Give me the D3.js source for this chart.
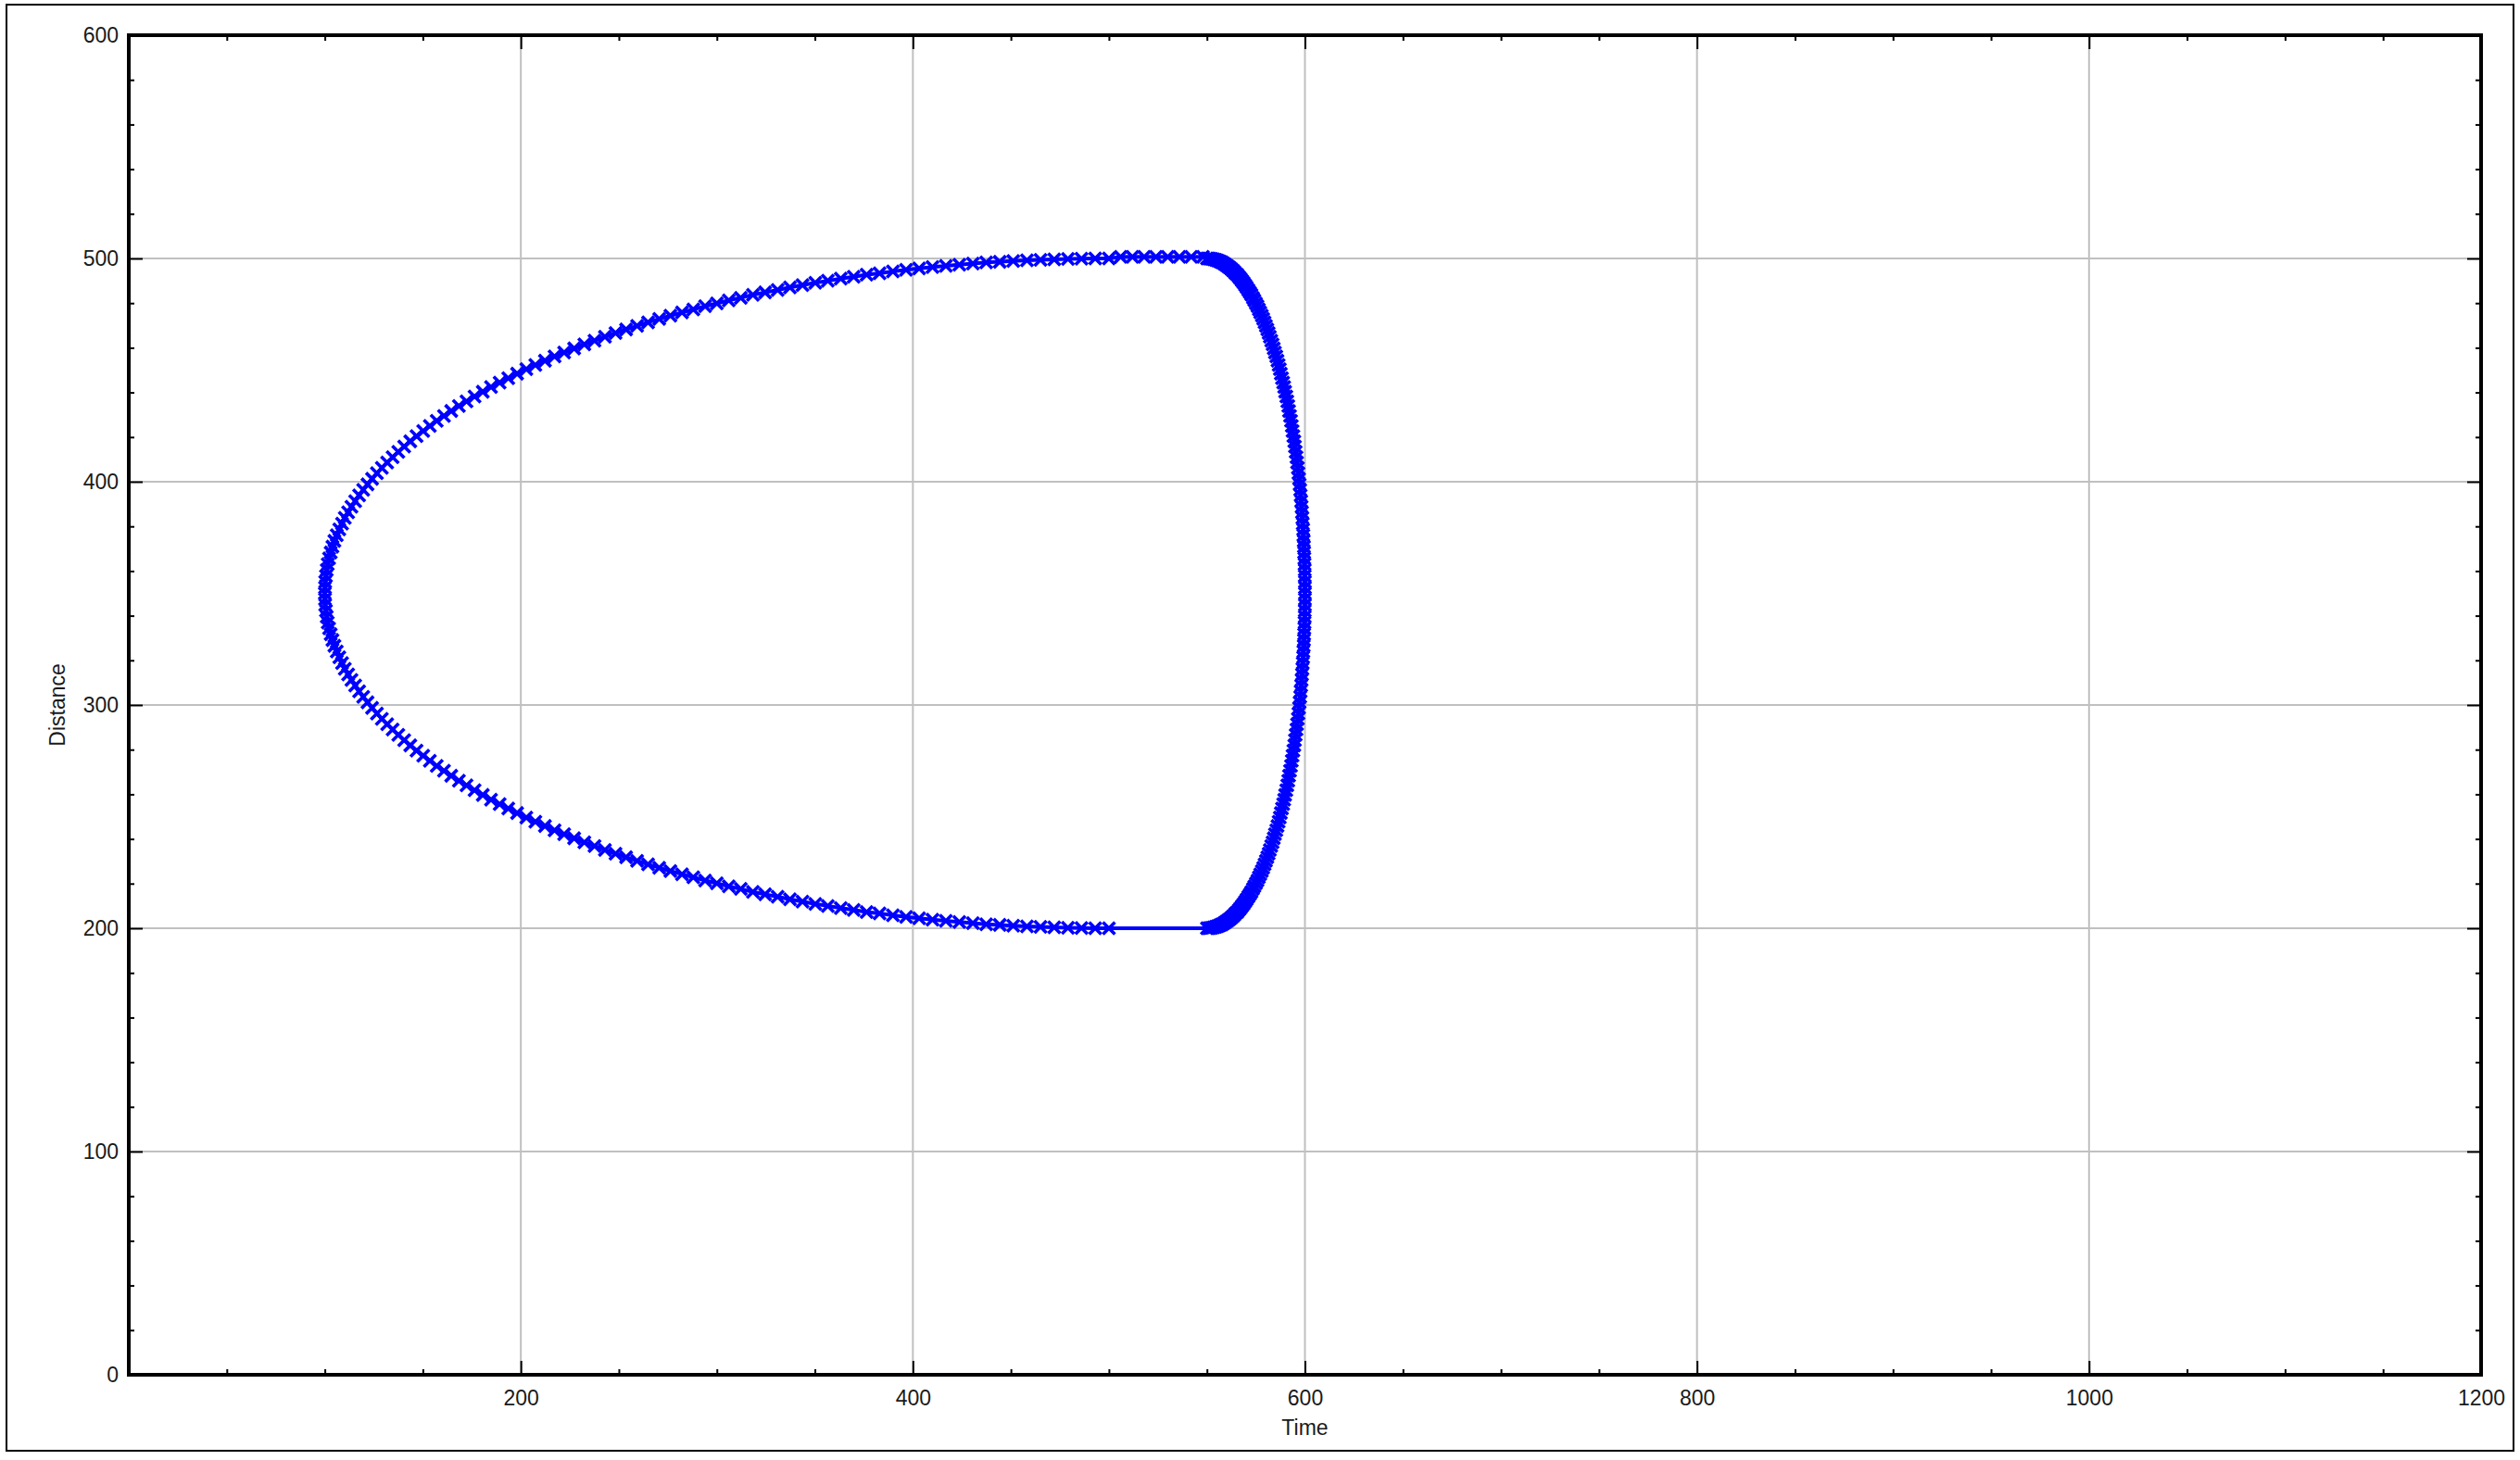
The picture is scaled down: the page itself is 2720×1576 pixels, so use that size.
<!DOCTYPE html>
<html><head><meta charset="utf-8">
<script src="https://cdn.jsdelivr.net/npm/d3@7"></script>
<style>body{margin:0;background:#fff}svg{display:block}</style>
</head><body><svg id="chart" width="2720" height="1576"></svg>
<script>
const xTickLabels = [200,400,600,800,1000,1200];
const yTickLabels = [0,100,200,300,400,500,600];
const xAxisTitle = "Time";
const yAxisTitle = "Distance";

// right lobe: from (550,500) down through (600,350) to (550,200)
const rightLoopX = [550.0,550.9,551.7,552.6,553.5,554.4,555.2,556.1,557.0,557.8,558.7,559.5,560.4,561.2,562.1,562.9,563.8,564.6,565.5,566.3,567.1,567.9,568.7,569.5,570.3,571.1,571.9,572.7,573.5,574.2,575.0,575.8,576.5,577.2,578.0,578.7,579.4,580.1,580.8,581.5,582.1,582.8,583.5,584.1,584.7,585.4,586.0,586.6,587.2,587.7,588.3,588.9,589.4,589.9,590.5,591.0,591.5,591.9,592.4,592.9,593.3,593.7,594.1,594.6,594.9,595.3,595.7,596.0,596.4,596.7,597.0,597.3,597.6,597.8,598.1,598.3,598.5,598.7,598.9,599.1,599.2,599.4,599.5,599.6,599.7,599.8,599.9,599.9,600.0,600.0,600.0,
600.0,600.0,599.9,599.9,599.8,599.7,599.6,599.5,599.4,599.2,599.1,598.9,598.7,598.5,598.3,598.1,597.8,597.6,597.3,597.0,596.7,596.4,596.0,595.7,595.3,594.9,594.6,594.1,593.7,593.3,592.9,592.4,591.9,591.5,591.0,590.5,589.9,589.4,588.9,588.3,587.7,587.2,586.6,586.0,585.4,584.7,584.1,583.5,582.8,582.1,581.5,580.8,580.1,579.4,578.7,578.0,577.2,576.5,575.8,575.0,574.2,573.5,572.7,571.9,571.1,570.3,569.5,568.7,567.9,567.1,566.3,565.5,564.6,563.8,562.9,562.1,561.2,560.4,559.5,558.7,557.8,557.0,556.1,555.2,554.4,553.5,552.6,551.7,550.9,550.0];
const rightLoopY = [500.0,500.0,499.9,499.8,499.6,499.4,499.2,498.9,498.5,498.2,497.7,497.2,496.7,496.2,495.5,494.9,494.2,493.4,492.7,491.8,491.0,490.0,489.1,488.1,487.0,485.9,484.8,483.7,482.4,481.2,479.9,478.6,477.2,475.8,474.4,472.9,471.4,469.8,468.2,466.6,464.9,463.2,461.5,459.7,457.9,456.1,454.2,452.3,450.4,448.4,446.4,444.4,442.4,440.3,438.2,436.0,433.9,431.7,429.5,427.3,425.0,422.7,420.4,418.1,415.8,413.4,411.0,408.6,406.2,403.8,401.3,398.8,396.4,393.9,391.3,388.8,386.3,383.8,381.2,378.6,376.0,373.5,370.9,368.3,365.7,363.1,360.5,357.8,355.2,352.6,350.0,
347.4,344.8,342.2,339.5,336.9,334.3,331.7,329.1,326.5,324.0,321.4,318.8,316.2,313.7,311.2,308.7,306.1,303.6,301.2,298.7,296.2,293.8,291.4,289.0,286.6,284.2,281.9,279.6,277.3,275.0,272.7,270.5,268.3,266.1,264.0,261.8,259.7,257.6,255.6,253.6,251.6,249.6,247.7,245.8,243.9,242.1,240.3,238.5,236.8,235.1,233.4,231.8,230.2,228.6,227.1,225.6,224.2,222.8,221.4,220.1,218.8,217.6,216.3,215.2,214.1,213.0,211.9,210.9,210.0,209.0,208.2,207.3,206.6,205.8,205.1,204.5,203.8,203.3,202.8,202.3,201.8,201.5,201.1,200.8,200.6,200.4,200.2,200.1,200.0,200.0];

// left lobe: from (500,200) through the tip (100,350) to (500,500)
const leftLoopX = [500.0,493.0,486.0,479.1,472.1,465.1,458.2,451.2,444.3,437.4,430.6,423.7,416.8,410.0,403.2,396.5,389.8,383.0,376.4,369.8,363.2,356.6,350.2,343.7,337.3,331.0,324.6,318.4,312.2,306.1,300.0,294.0,288.0,282.2,276.3,270.6,264.9,259.3,253.7,248.3,242.9,237.6,232.4,227.2,222.1,217.2,212.3,207.4,202.8,198.1,193.6,189.2,184.8,180.6,176.4,172.3,168.4,164.5,160.8,157.1,153.6,150.2,146.8,143.6,140.5,137.5,134.6,131.8,129.1,126.6,124.1,121.8,119.6,117.5,115.5,113.6,111.9,110.2,108.8,107.4,106.1,104.9,103.9,103.0,102.2,101.5,101.0,100.6,100.2,100.1,100.0,
100.1,100.2,100.6,101.0,101.5,102.2,103.0,103.9,104.9,106.1,107.4,108.8,110.2,111.9,113.6,115.5,117.5,119.6,121.8,124.1,126.6,129.1,131.8,134.6,137.5,140.5,143.6,146.8,150.2,153.6,157.1,160.8,164.5,168.4,172.3,176.4,180.6,184.8,189.2,193.6,198.1,202.8,207.4,212.3,217.2,222.1,227.2,232.4,237.6,242.9,248.3,253.7,259.3,264.9,270.6,276.3,282.2,288.0,294.0,300.0,306.1,312.2,318.4,324.6,331.0,337.3,343.7,350.2,356.6,363.2,369.8,376.4,383.0,389.8,396.5,403.2,410.0,416.8,423.7,430.6,437.4,444.3,451.2,458.2,465.1,472.1,479.1,486.0,493.0,500.0];
const leftLoopY = [200.0,200.0,200.1,200.2,200.4,200.6,200.8,201.1,201.5,201.8,202.3,202.8,203.3,203.8,204.5,205.1,205.8,206.6,207.3,208.2,209.0,210.0,210.9,211.9,213.0,214.1,215.2,216.3,217.6,218.8,220.1,221.4,222.8,224.2,225.6,227.1,228.6,230.2,231.8,233.4,235.1,236.8,238.5,240.3,242.1,243.9,245.8,247.7,249.6,251.6,253.6,255.6,257.6,259.7,261.8,264.0,266.1,268.3,270.5,272.7,275.0,277.3,279.6,281.9,284.2,286.6,289.0,291.4,293.8,296.2,298.7,301.2,303.6,306.1,308.7,311.2,313.7,316.2,318.8,321.4,324.0,326.5,329.1,331.7,334.3,336.9,339.5,342.2,344.8,347.4,350.0,
352.6,355.2,357.8,360.5,363.1,365.7,368.3,370.9,373.5,376.0,378.6,381.2,383.8,386.3,388.8,391.3,393.9,396.4,398.8,401.3,403.8,406.2,408.6,411.0,413.4,415.8,418.1,420.4,422.7,425.0,427.3,429.5,431.7,433.9,436.0,438.2,440.3,442.4,444.4,446.4,448.4,450.4,452.3,454.2,456.1,457.9,459.7,461.5,463.2,464.9,466.6,468.2,469.8,471.4,472.9,474.4,475.8,477.2,478.6,479.9,481.2,482.4,483.7,484.8,485.9,487.0,488.1,489.1,490.0,491.0,491.8,492.7,493.4,494.2,494.9,495.5,496.2,496.7,497.2,497.7,498.2,498.5,498.9,499.2,499.4,499.6,499.8,499.9,500.0,500.0];

// flat top edge joining the two lobes
const topEdgeX = [506,512,518,524,530,536,542,548];
const topEdgeY = [500.7,500.7,500.7,500.7,500.7,500.7,500.7,500.7];

function zip(xs, ys){ const n=Math.min(xs.length, ys.length); const out=[]; for(let i=0;i<n;i++) out.push({x:xs[i], y:ys[i]}); return out; }
const points = [].concat(zip(rightLoopX,rightLoopY), zip(leftLoopX,leftLoopY), zip(topEdgeX,topEdgeY));

const svg = d3.select("#chart");
const L=139, R=2678, T=38, B=1484;
const x = d3.scaleLinear().domain([0,1200]).range([L,R]);
const y = d3.scaleLinear().domain([0,600]).range([B,T]);
const FONT = "'Liberation Sans', Arial, sans-serif";

svg.append("rect").attr("width",2720).attr("height",1576).attr("fill","#fff");
// outer border
svg.append("rect").attr("x",7).attr("y",5).attr("width",2706).attr("height",1561)
  .attr("fill","none").attr("stroke","#000").attr("stroke-width",2);

// grid
const grid = svg.append("g").attr("stroke","#c0c0c0").attr("stroke-width",2);
xTickLabels.filter(v=>v<1200).forEach(v=>{
  grid.append("line").attr("x1",x(v)).attr("x2",x(v)).attr("y1",T).attr("y2",B);
});
yTickLabels.filter(v=>v>0 && v<600).forEach(v=>{
  grid.append("line").attr("x1",L).attr("x2",R).attr("y1",y(v)).attr("y2",y(v));
});

// data
const line = d3.line().x(d=>x(d.x)).y(d=>y(d.y));
svg.append("path").datum(points).attr("d",line).attr("fill","none")
  .attr("stroke","#0000ff").attr("stroke-width",4).attr("stroke-linejoin","round");
const s = 6.5;
svg.append("g").selectAll("path").data(points).join("path")
  .attr("transform",d=>`translate(${x(d.x)},${y(d.y)})`)
  .attr("d",`M${-s},${-s}L${s},${s}M${-s},${s}L${s},${-s}`)
  .attr("stroke","#0000ff").attr("stroke-width",3.6).attr("fill","none");

// axes (ticks inside on all four sides)
const xMinor = d3.range(0,1201,50).filter(v=>v%200!==0);
const yMinor = d3.range(0,601,20).filter(v=>v%100!==0);
function styleAxis(g){
  g.select(".domain").remove();
  g.selectAll(".tick line").attr("stroke","#000").attr("stroke-width",2);
  g.selectAll("text").attr("font-family",FONT).attr("font-size",23).attr("fill","#1a1a1a");
}
svg.append("g").attr("transform",`translate(0,${B})`)
  .call(d3.axisBottom(x).tickValues(xTickLabels).tickSize(-15).tickPadding(17).tickFormat(d3.format("d")))
  .call(styleAxis);
svg.append("g").attr("transform",`translate(0,${B})`)
  .call(d3.axisBottom(x).tickValues(xMinor).tickSize(-6).tickFormat(""))
  .call(styleAxis);
svg.append("g").attr("transform",`translate(0,${T})`)
  .call(d3.axisTop(x).tickValues(xTickLabels).tickSize(-15).tickFormat(""))
  .call(styleAxis);
svg.append("g").attr("transform",`translate(0,${T})`)
  .call(d3.axisTop(x).tickValues(xMinor).tickSize(-6).tickFormat(""))
  .call(styleAxis);
svg.append("g").attr("transform",`translate(${L},0)`)
  .call(d3.axisLeft(y).tickValues(yTickLabels).tickSize(-15).tickPadding(11).tickFormat(d3.format("d")))
  .call(styleAxis);
svg.append("g").attr("transform",`translate(${L},0)`)
  .call(d3.axisLeft(y).tickValues(yMinor).tickSize(-6).tickFormat(""))
  .call(styleAxis);
svg.append("g").attr("transform",`translate(${R},0)`)
  .call(d3.axisRight(y).tickValues(yTickLabels).tickSize(-15).tickFormat(""))
  .call(styleAxis);
svg.append("g").attr("transform",`translate(${R},0)`)
  .call(d3.axisRight(y).tickValues(yMinor).tickSize(-6).tickFormat(""))
  .call(styleAxis);

// plot frame
svg.append("rect").attr("x",L).attr("y",T).attr("width",R-L).attr("height",B-T)
  .attr("fill","none").attr("stroke","#000").attr("stroke-width",4);

// axis titles
svg.append("text").attr("x",(L+R)/2).attr("y",1549).attr("text-anchor","middle")
  .attr("font-family",FONT).attr("font-size",23).attr("fill","#1a1a1a").text(xAxisTitle);
svg.append("text").attr("transform",`translate(70,${(T+B)/2}) rotate(-90)`).attr("text-anchor","middle")
  .attr("font-family",FONT).attr("font-size",23).attr("fill","#1a1a1a").text(yAxisTitle);
</script></body></html>
